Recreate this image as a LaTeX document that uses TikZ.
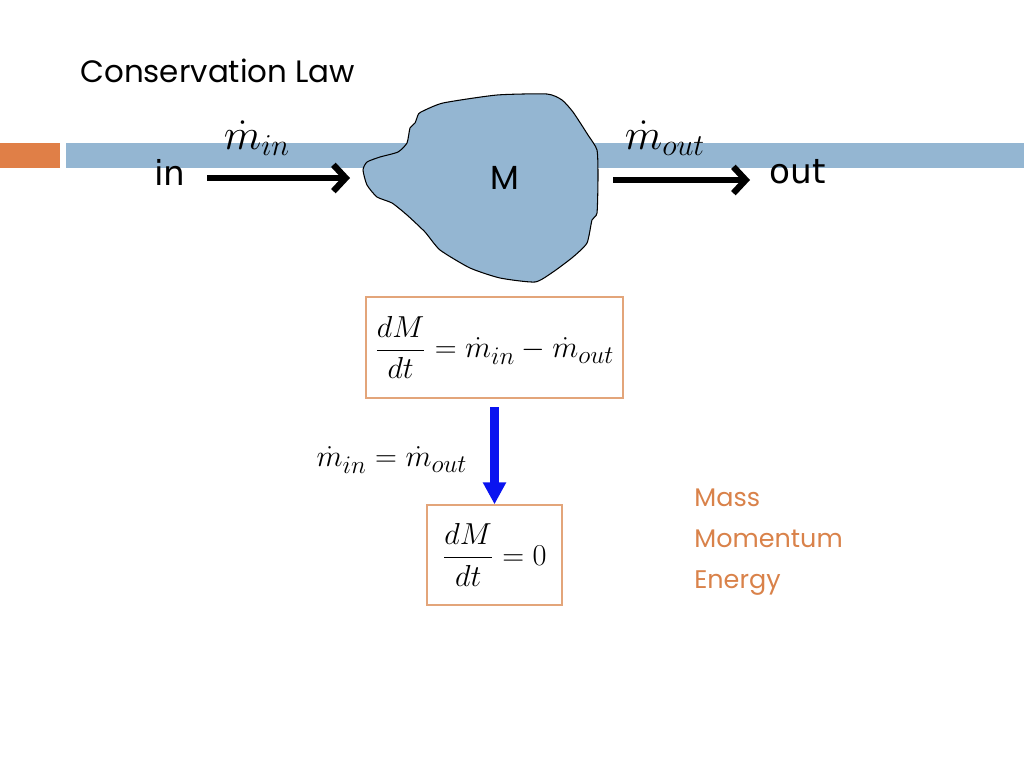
\documentclass[tikz,border=0pt]{standalone}
\usepackage{fontspec}
\setsansfont{Poppins}
\newfontfamily\labelfont{DejaVu Sans}
\usetikzlibrary{arrows.meta,positioning}

\definecolor{barblue}{HTML}{94B6D2}
\definecolor{accent}{HTML}{E07F47}
\definecolor{boxline}{HTML}{E3A57A}
\definecolor{listtxt}{HTML}{D9824A}
\definecolor{pushblue}{HTML}{0A14F0}

\tikzset{
  flow/.style={line width=3.6pt, -{Straight Barb[length=7pt,width=15pt]}},
  push/.style={pushblue, line width=5pt, -{Triangle[length=12.5pt,width=12.5pt]}},
  eqbox/.style={draw=boxline, line width=0.8pt, inner sep=0pt},
  rate/.style={inner sep=0pt, font=\fontsize{26}{30}\selectfont},
  eq/.style={font=\fontsize{19}{23}\selectfont},
  listitem/.style={anchor=base west, inner sep=0pt, text=listtxt, font=\sffamily\fontsize{14.5}{18}\selectfont},
}

\begin{document}
\begin{tikzpicture}[x=0.02cm,y=-0.02cm]
	\useasboundingbox (0,0) rectangle (1024,768);

	%title and bar
	\node[anchor=base west, inner sep=0pt, font=\sffamily\fontsize{17.6}{21}\selectfont] (title) at (80,82) {Conservation Law};
	\fill[accent] (0,143) rectangle (60,168);
	\fill[barblue] (66,143) rectangle (1024,168);

	%control volume
	\draw[fill=barblue, draw=black, line width=0.6pt] plot[smooth cycle, tension=0.35] coordinates {
		(421,112) (443,103) (497,95) (547,94) (562,100) (573,112) (588,135) (597,150)
		(598,177) (597,213) (592,220) (587,243) (573,257) (553,272) (535,282) (500,278)
		(470,268) (440,250) (425,232) (407,215) (392,203) (377,197) (367,185) (363,170)
		(367,162) (380,157) (398,152) (407,143) (410,128) (415,123) (418,115)};
	\node[font=\sffamily\fontsize{19}{22}\selectfont] (cv) at (505,178) {M};

	%in and out
	\node[font=\labelfont\fontsize{19.5}{23}\selectfont] (inlbl) at (170,172) {in};
	\node[font=\labelfont\fontsize{19.5}{23}\selectfont] (outlbl) at (798,172) {out};
	\coordinate (inA) at (207,178);
	\coordinate (inB) at (350,178);
	\coordinate (outA) at (613,180);
	\coordinate (outB) at (750,180);
	\draw[flow] (inA) -- (inB);
	\draw[flow] (outA) -- (outB);
	\node[rate] (min) at (257,138) {$\dot m_{in}$};
	\node[rate] (mout) at (665,138) {$\dot m_{out}$};

	%balance
	\node[eqbox, eq, minimum width=5.14cm, minimum height=2.02cm] (box1) at (494.5,347.5)
		{$\displaystyle\frac{dM}{dt}=\dot m_{in}-\dot m_{out}$};
	\node[eqbox, eq, minimum width=2.7cm, minimum height=2cm] (box2) at (494.5,555)
		{$\displaystyle\frac{dM}{dt}=0$};
	\draw[push, shorten <=5pt] (box1.south) -- (box2.north);
	\node[eq, inner sep=0pt] (cond) at (392,460) {$\dot m_{in}=\dot m_{out}$};

	%quantities
	\node[listitem] (mass) at (694,506) {Mass};
	\node[listitem] (momentum) at (694,547) {Momentum};
	\node[listitem] (energy) at (694,588) {Energy};

\end{tikzpicture}
\end{document}
